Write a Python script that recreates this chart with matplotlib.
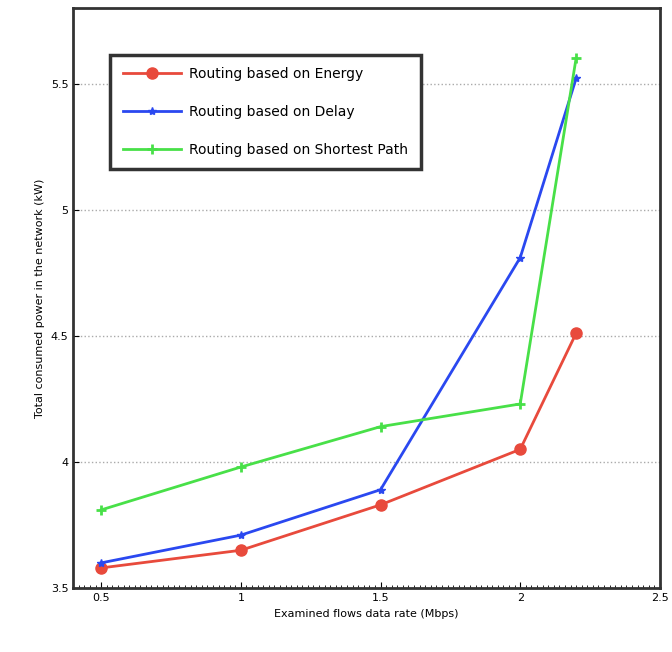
import matplotlib.pyplot as plt
from matplotlib.ticker import MultipleLocator

# data
rate = [0.5, 1, 1.5, 2, 2.2]
energy = [3.58, 3.65, 3.83, 4.05, 4.51]
delay = [3.60, 3.71, 3.89, 4.81, 5.52]
shortest = [3.81, 3.98, 4.14, 4.23, 5.60]

labels = ["Routing based on Energy", "Routing based on Delay",
          "Routing based on Shortest Path"]
xticks = [0.5, 1, 1.5, 2, 2.5]
yticks = [3.5, 4, 4.5, 5, 5.5]

plt.rcParams.update({"font.family": "DejaVu Sans", "font.size": 8})

fig = plt.figure(figsize=(6.72, 6.52), dpi=100)
ax = fig.add_axes([0.109, 0.098, 0.873, 0.89])

ax.plot(rate, energy, '-o', color='#e84a3c', lw=2, markersize=8, label=labels[0])
ax.plot(rate, delay, '-*', color='#2a48f0', lw=2, markersize=6, label=labels[1])
ax.plot(rate, shortest, '-+', color='#48e048', lw=2, markersize=7, mew=2, label=labels[2])

ax.set_xlim(0.4, 2.5)
ax.set_ylim(3.5, 5.8)
ax.set_xticks(xticks)
ax.set_xticklabels(["0.5", "1", "1.5", "2", "2.5"])
ax.set_yticks(yticks)
ax.set_yticklabels(["3.5", "4", "4.5", "5", "5.5"])
ax.xaxis.set_minor_locator(MultipleLocator(0.02))
ax.tick_params(which='both', direction='in', length=4)
ax.tick_params(which='minor', length=2)
ax.grid(True, axis='y', linestyle=':', color='#aaaaaa', lw=1)
for s in ax.spines.values():
    s.set_linewidth(2)
    s.set_color('#333333')

ax.set_xlabel('Examined flows data rate (Mbps)')
ax.set_ylabel('Total consumed power in the network (kW)')

leg = ax.legend(loc='upper left', bbox_to_anchor=(0.063, 0.919), borderaxespad=0,
                fancybox=False, framealpha=1, edgecolor='#333333', fontsize=10,
                handlelength=4.2, labelspacing=1.7, borderpad=0.9,
                handletextpad=0.6)
leg.get_frame().set_linewidth(2.5)

plt.savefig('out.png', dpi=100)
